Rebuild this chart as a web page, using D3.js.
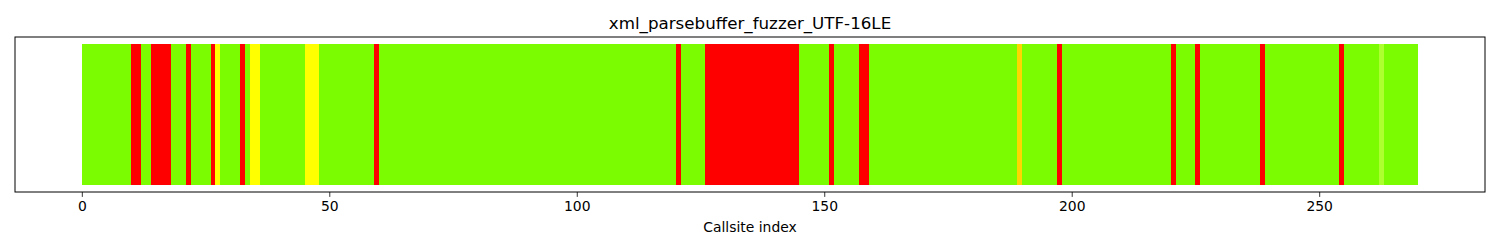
<!DOCTYPE html>
<html>
<head>
<meta charset="utf-8">
<script src="https://cdn.jsdelivr.net/npm/d3@7"></script>
<style>
  body { margin: 0; background: white; }
  text { font-family: "DejaVu Sans", sans-serif; }
</style>
</head>
<body>
<div id="vis"></div>
<script>
const chartTitle = 'xml_parsebuffer_fuzzer_UTF-16LE';
const xLabel = 'Callsite index';
const callsiteCount = 270;
// callsites that are not the default (lawngreen) status
const redCallsites = [10, 11, 14, 15, 16, 17, 21, 26, 32, 59, 120,
  126, 127, 128, 129, 130, 131, 132, 133, 134, 135, 136, 137, 138, 139, 140, 141, 142, 143, 144,
  151, 157, 158, 197, 220, 225, 238, 254];
const yellowCallsites = [27, 34, 35, 45, 46, 47];
const goldCallsites = [189];
const greenYellowCallsites = [262];
const xTicks = [0, 50, 100, 150, 200, 250];

const width = 1500, height = 250;
const margin = { left: 15, right: 15, top: 37, bottom: 58 };

let svg = d3.select('#vis').append('svg').attr('width', width).attr('height', height);

let colorOf = function (i) {
  if (redCallsites.includes(i)) return '#ff0000';
  if (yellowCallsites.includes(i)) return '#ffff00';
  if (goldCallsites.includes(i)) return '#ffd700';
  if (greenYellowCallsites.includes(i)) return '#adff2f';
  return '#7cfc00';
}

const callsites = d3.range(callsiteCount);
const pad = callsiteCount * 0.05;

let x = d3.scaleLinear()
  .domain([-pad, callsiteCount + pad])
  .range([margin.left, width - margin.right]);

let y = d3.scaleLinear()
  .domain([-0.05, 1.05])
  .range([height - margin.bottom, margin.top]);

// bars
svg.append('g')
  .selectAll('rect')
  .data(callsites)
  .join('rect')
  .attr('x', d => x(d))
  .attr('width', d => x(d + 1) - x(d))
  .attr('y', y(1))
  .attr('height', y(0) - y(1))
  .attr('fill', d => colorOf(d))
  .attr('shape-rendering', 'crispEdges');

// frame
svg.append('rect')
  .attr('x', margin.left)
  .attr('y', margin.top)
  .attr('width', width - margin.left - margin.right)
  .attr('height', height - margin.top - margin.bottom)
  .attr('fill', 'none')
  .attr('stroke', 'black')
  .attr('stroke-width', 1);

// x axis
let xAxis = svg.append('g')
  .attr('transform', `translate(0,${height - margin.bottom})`)
  .call(d3.axisBottom(x).tickValues(xTicks).tickSize(4.9).tickPadding(4.5).tickFormat(d3.format('d')));
xAxis.select('.domain').remove();
xAxis.selectAll('text').style('font-size', '13.9px').style('font-family', '"DejaVu Sans", sans-serif').attr('fill', 'black');
xAxis.selectAll('line').attr('stroke', 'black').attr('stroke-width', 0.8);

svg.append('text')
  .attr('x', (margin.left + width - margin.right) / 2)
  .attr('y', 232)
  .style('text-anchor', 'middle')
  .style('font-size', '13.9px')
  .text(xLabel);

svg.append('text')
  .attr('x', (margin.left + width - margin.right) / 2)
  .attr('y', 28.5)
  .style('text-anchor', 'middle')
  .style('font-size', '16.7px')
  .text(chartTitle);
</script>
</body>
</html>
